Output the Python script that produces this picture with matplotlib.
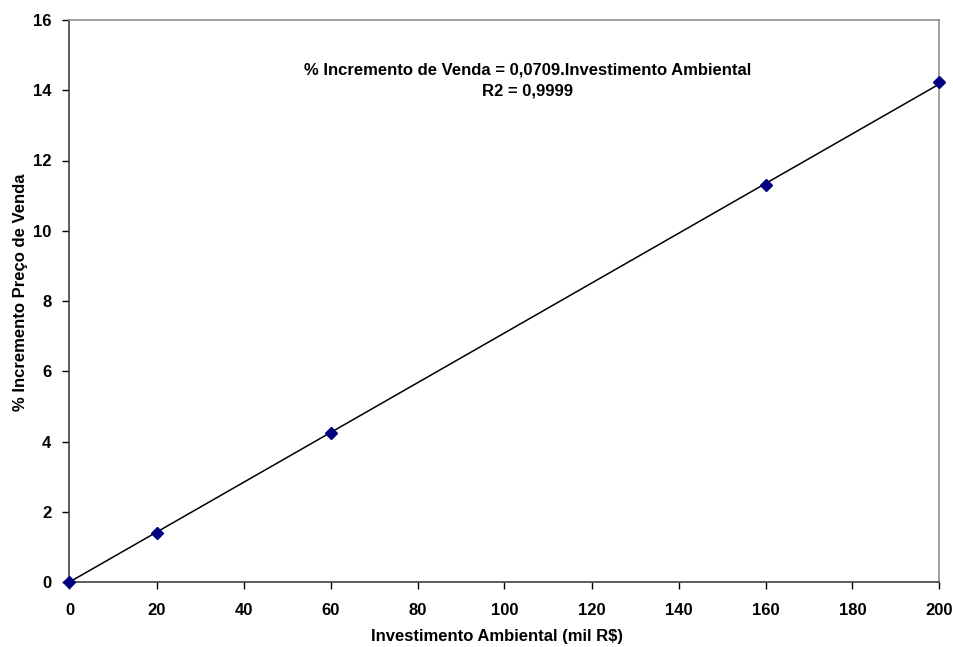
import matplotlib
matplotlib.use("Agg")
import matplotlib.pyplot as plt
import numpy as np

plt.rcParams['font.family'] = ['Liberation Sans', 'DejaVu Sans']
plt.rcParams['font.weight'] = 'bold'

x_vals = [0, 20, 60, 160, 200]
y_vals = [0.0, 1.40, 4.25, 11.30, 14.23]
slope = 0.0709
x_ticks = [0, 20, 40, 60, 80, 100, 120, 140, 160, 180, 200]
y_ticks = [0, 2, 4, 6, 8, 10, 12, 14, 16]

fig = plt.figure(figsize=(9.54, 6.47), dpi=100)
ax = fig.add_axes([69.5/954, 1-582/647, (939.5-69.5)/954, (582-20)/647])

xl = np.array([0, 200])
ax.plot(xl, slope*xl, color='black', lw=1.1, zorder=2)
ax.plot(x_vals, y_vals, linestyle='none', marker='D', color='#000080', markersize=6, zorder=3, clip_on=False)

ax.set_xlim(0, 200)
ax.set_ylim(0, 16)
ax.set_xticks(x_ticks)
ax.set_yticks(y_ticks)
ax.tick_params(axis='x', direction='out', length=5, width=1, labelsize=12, colors='black', pad=10)
ax.tick_params(axis='y', direction='out', length=5, width=1, labelsize=12, colors='black', pad=8)
for lab in ax.get_xticklabels() + ax.get_yticklabels():
    lab.set_fontweight('bold')
ax.spines['left'].set_color('#404040')
ax.spines['bottom'].set_color('#404040')
ax.spines['top'].set_color('#909090')
ax.spines['right'].set_color('#909090')
for s in ax.spines.values():
    s.set_linewidth(1.2)

ax.set_xlabel('Investimento Ambiental (mil R$)', fontsize=12, fontweight='bold')
ax.set_ylabel('% Incremento Preço de Venda', fontsize=12, fontweight='bold')
ax.xaxis.set_label_coords(497/954, 1-636/647, transform=fig.transFigure)
ax.yaxis.set_label_coords(21/954, 1-292/647, transform=fig.transFigure)
ax.xaxis.label.set_va('center')
ax.yaxis.label.set_va('center')

ax.text(528/954, 1-70/647, '% Incremento de Venda = 0,0709.Investimento Ambiental',
        transform=fig.transFigure, ha='center', va='center', fontsize=12, fontweight='bold')
ax.text(528/954, 1-91/647, 'R2 = 0,9999',
        transform=fig.transFigure, ha='center', va='center', fontsize=12, fontweight='bold')

fig.savefig('out.png', dpi=100)
